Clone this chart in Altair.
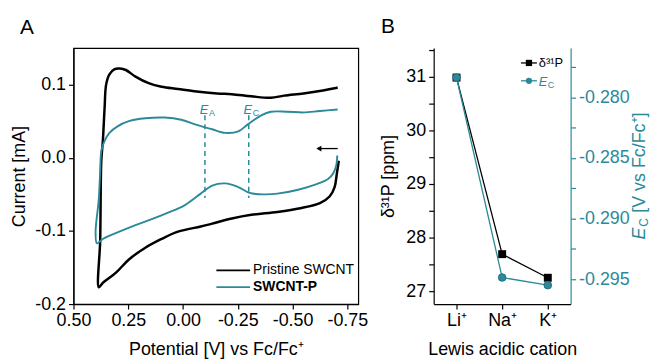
import altair as alt
import pandas as pd

FONT = "Liberation Sans"
TEAL = "#2b8a99"

# ---------------- Panel A data (CV curves) ----------------
black_x = [-0.711, -0.702, -0.692, -0.669, -0.625, -0.535, -0.431, -0.312, -0.223, -0.133, -0.081, 0.023,
           0.098, 0.172, 0.247, 0.306, 0.366, 0.384, 0.378, 0.373, 0.366, 0.358, 0.351, 0.336, 0.314, 0.288,
           0.261, 0.217, 0.157, 0.098, 0.023, -0.051, -0.155, -0.223, -0.312, -0.401, -0.461, -0.550, -0.639,
           -0.692, -0.706]
black_y = [-0.004, -0.022, -0.040, -0.053, -0.062, -0.069, -0.074, -0.078, -0.083, -0.090, -0.094, -0.101,
           -0.111, -0.123, -0.139, -0.157, -0.171, -0.177, -0.112, -0.004, 0.023, 0.068, 0.100, 0.114, 0.121,
           0.122, 0.120, 0.111, 0.102, 0.097, 0.094, 0.091, 0.088, 0.087, 0.084, 0.082, 0.085, 0.088, 0.092,
           0.095, 0.096]
teal_x = [-0.704, -0.699, -0.684, -0.662, -0.610, -0.521, -0.431, -0.371, -0.304, -0.252, -0.193, -0.133,
          -0.081, -0.007, 0.068, 0.143, 0.217, 0.291, 0.366, 0.393, 0.399, 0.385, 0.378, 0.373, 0.358, 0.336,
          0.299, 0.247, 0.172, 0.083, 0.008, -0.051, -0.096, -0.133, -0.193, -0.252, -0.297, -0.357, -0.401,
          -0.476, -0.550, -0.625, -0.706]
teal_y = [0.003, -0.011, -0.022, -0.029, -0.036, -0.044, -0.049, -0.050, -0.048, -0.040, -0.035, -0.038,
          -0.049, -0.065, -0.075, -0.084, -0.092, -0.101, -0.111, -0.117, -0.101, -0.058, -0.018, 0.009, 0.023,
          0.034, 0.043, 0.050, 0.054, 0.055, 0.052, 0.046, 0.042, 0.039, 0.034, 0.036, 0.046, 0.058, 0.063,
          0.063, 0.062, 0.064, 0.066]
peak_x = [-0.10, -0.30]
peak_sub = ["A", "C"]
arrow_x = [-0.62, -0.706]
arrow_y = 0.0126

xA_ticks = [0.5, 0.375, 0.25, 0.125, 0.0, -0.125, -0.25, -0.375, -0.5, -0.625, -0.75]
yA_ticks = [-0.2, -0.15, -0.1, -0.05, 0.0, 0.05, 0.1, 0.15]
legendA = ["Pristine SWCNT", "SWCNT-P"]

# ---------------- Panel B data ----------------
cations = ["Li⁺", "Na⁺", "K⁺"]
d31p = [30.98, 27.69, 27.25]
ec = [-0.27836, -0.29486, -0.29549]
yL_ticks = [27, 27.5, 28, 28.5, 29, 29.5, 30, 30.5, 31, 31.5]
yR_ticks = [-0.2775, -0.28, -0.2825, -0.285, -0.2875, -0.29, -0.2925, -0.295]

W_A, H = 287, 258
W_B = 138

one = pd.DataFrame({"k": [0]})
dfb = pd.DataFrame({"x": black_x, "y": black_y, "i": list(range(len(black_x)))})
dft = pd.DataFrame({"x": teal_x, "y": teal_y, "i": list(range(len(teal_x)))})
dfp = pd.DataFrame({"x": peak_x, "sub": peak_sub, "y1": [0.058] * 2, "y2": [-0.055] * 2, "yl": [0.0605] * 2})
dfa = pd.DataFrame({"x": arrow_x[0], "x2": arrow_x[1], "y": [arrow_y]})

xs = alt.Scale(domain=[-0.8, 0.5], reverse=True, nice=False, zero=False)
ys = alt.Scale(domain=[-0.2, 0.15], nice=False, zero=False)

x_axis = alt.Axis(values=xA_ticks, title="Potential [V] vs Fc/Fc⁺",
                  labelExpr="abs(datum.value*4 - round(datum.value*4)) < 0.001 ? replace(format(datum.value, '.2f'), '−', '-') : ''",
                  titlePadding=11)
y_axis = alt.Axis(values=yA_ticks, title="Current [mA]",
                  labelExpr="abs(datum.value*10 - round(datum.value*10)) < 0.001 ? replace(format(datum.value, '.1f'), '−', '-') : ''",
                  titlePadding=6)

black = alt.Chart(dfb).mark_line(color="black", strokeWidth=2.5, interpolate="catmull-rom").encode(
    x=alt.X("x:Q", scale=xs, axis=x_axis), y=alt.Y("y:Q", scale=ys, axis=y_axis), order="i:Q")
teal = alt.Chart(dft).mark_line(color=TEAL, strokeWidth=1.9, interpolate="catmull-rom").encode(
    x=alt.X("x:Q", scale=xs), y=alt.Y("y:Q", scale=ys), order="i:Q")
dash = alt.Chart(dfp).mark_rule(color=TEAL, strokeDash=[5, 4], strokeWidth=1.5).encode(
    x="x:Q", y="y1:Q", y2="y2:Q")
lblE = alt.Chart(dfp).mark_text(text="E", font=FONT, fontSize=13, fontStyle="italic", color=TEAL,
                                align="center", baseline="alphabetic", dx=-1).encode(x="x:Q", y="yl:Q")
lblS = alt.Chart(dfp).mark_text(font=FONT, fontSize=9, color=TEAL, align="left",
                                baseline="alphabetic", dx=4, dy=2).encode(x="x:Q", y="yl:Q", text="sub:N")
arrow_shaft = alt.Chart(dfa).mark_rule(color="black", strokeWidth=1.3).encode(x="x:Q", x2="x2:Q", y="y:Q")
arrow_head = alt.Chart(dfa).mark_point(shape="triangle-left", filled=True, color="black", size=35,
                                       opacity=1).encode(x="x:Q", y="y:Q")

leg_rule1 = alt.Chart(one).mark_rule(color="black", strokeWidth=1.8).encode(
    x=alt.value(144), x2=alt.value(178), y=alt.value(224))
leg_rule2 = alt.Chart(one).mark_rule(color=TEAL, strokeWidth=1.8).encode(
    x=alt.value(144), x2=alt.value(178), y=alt.value(241))
leg_txt1 = alt.Chart(one).mark_text(text=legendA[0], font=FONT, fontSize=14, align="left",
                                    baseline="middle", color="black").encode(x=alt.value(181), y=alt.value(224))
leg_txt2 = alt.Chart(one).mark_text(text=legendA[1], font=FONT, fontSize=14, fontWeight="bold", align="left",
                                    baseline="middle", color="black").encode(x=alt.value(181), y=alt.value(241))
labA = alt.Chart(one).mark_text(text="A", font=FONT, fontSize=21, align="left", baseline="alphabetic",
                                color="black").encode(x=alt.value(-54), y=alt.value(-14))

panelA = alt.layer(black, teal, dash, lblE, lblS, arrow_shaft, arrow_head,
                   leg_rule1, leg_rule2, leg_txt1, leg_txt2, labA).properties(
    width=W_A, height=H, view=alt.ViewBackground(stroke="black", strokeWidth=1.2))

# ---------------- Panel B ----------------
dfB = pd.DataFrame({"cat": cations, "d": d31p, "e": ec})
xB = alt.X("cat:N", sort=cations, scale=alt.Scale(type="point", padding=0.5),
           axis=alt.Axis(title="Lewis acidic cation", labelAngle=0, titlePadding=11))
yL = alt.Y("d:Q", scale=alt.Scale(domain=[26.76, 31.53], nice=False, zero=False),
           axis=alt.Axis(values=yL_ticks, title="δ³¹P [ppm]", titlePadding=8,
                         labelExpr="datum.value % 1 == 0 ? format(datum.value, 'd') : ''"))
yR = alt.Y("e:Q", scale=alt.Scale(domain=[-0.29705, -0.27593], nice=False, zero=False),
           axis=alt.Axis(values=yR_ticks, title=None, orient="right", domainColor=TEAL, tickColor=TEAL,
                         labelColor=TEAL,
                         labelExpr="abs(datum.value*200 - round(datum.value*200)) < 0.001 ? replace(format(datum.value, '.3f'), '−', '-') : ''"))

left = alt.layer(
    alt.Chart(dfB).mark_line(color="black", strokeWidth=1.3).encode(x=xB, y=yL),
    alt.Chart(dfB).mark_point(shape="square", filled=True, size=64, color="black", opacity=1).encode(x=xB, y=yL),
)
right = alt.layer(
    alt.Chart(dfB).mark_line(color=TEAL, strokeWidth=1.3).encode(x=xB, y=yR),
    alt.Chart(dfB).mark_circle(size=60, color=TEAL, stroke="#1b6675", strokeWidth=0.8, opacity=1).encode(x=xB, y=yR),
)

LX = 88
legB = [
    alt.Chart(one).mark_rule(color="black", strokeWidth=1.3).encode(x=alt.value(LX), x2=alt.value(LX + 16), y=alt.value(15)),
    alt.Chart(one).mark_point(shape="square", filled=True, size=40, color="black", opacity=1).encode(x=alt.value(LX + 8), y=alt.value(15)),
    alt.Chart(one).mark_text(text="δ³¹P", font=FONT, fontSize=13, align="left", baseline="middle", color="black").encode(x=alt.value(LX + 18), y=alt.value(15)),
    alt.Chart(one).mark_rule(color=TEAL, strokeWidth=1.3).encode(x=alt.value(LX), x2=alt.value(LX + 16), y=alt.value(33)),
    alt.Chart(one).mark_circle(size=40, color=TEAL, opacity=1).encode(x=alt.value(LX + 8), y=alt.value(33)),
    alt.Chart(one).mark_text(text="E", font=FONT, fontSize=13, fontStyle="italic", align="left", baseline="alphabetic", color=TEAL).encode(x=alt.value(LX + 18), y=alt.value(38)),
    alt.Chart(one).mark_text(text="C", font=FONT, fontSize=9, align="left", baseline="alphabetic", color=TEAL).encode(x=alt.value(LX + 27), y=alt.value(40)),
    # right axis title (rotated, manual for italic E with subscript C)
    alt.Chart(one).mark_text(text="E", font=FONT, fontSize=18, fontStyle="italic", angle=270, align="left", baseline="alphabetic", color=TEAL).encode(x=alt.value(213), y=alt.value(193)),
    alt.Chart(one).mark_text(text="C", font=FONT, fontSize=12, angle=270, align="left", baseline="alphabetic", color=TEAL).encode(x=alt.value(215.5), y=alt.value(180)),
    alt.Chart(one).mark_text(text="[V vs Fc/Fc⁺]", font=FONT, fontSize=18, angle=270, align="left", baseline="alphabetic", color=TEAL).encode(x=alt.value(213), y=alt.value(166)),
    alt.Chart(one).mark_text(text="B", font=FONT, fontSize=21, align="left", baseline="alphabetic", color="black").encode(x=alt.value(-53), y=alt.value(-15)),
]

panelB = alt.layer(left, right, *legB).resolve_scale(y="independent").properties(width=W_B, height=H)

chart = alt.hconcat(panelA, panelB, spacing=10).properties(
    padding={"left": 2, "top": 7, "right": 0, "bottom": 0}
).configure_axis(
    labelFont=FONT, titleFont=FONT, labelFontSize=18, titleFontSize=18, titleFontWeight="normal",
    grid=False, domainColor="black", tickColor="black", labelColor="black", titleColor="black",
    tickSize=5, domainWidth=1.2, tickWidth=1.2, labelPadding=3, labelFlush=False
).configure_view(stroke=None)

chart.save("out.html", embed_options={"renderer": "svg", "actions": False})
